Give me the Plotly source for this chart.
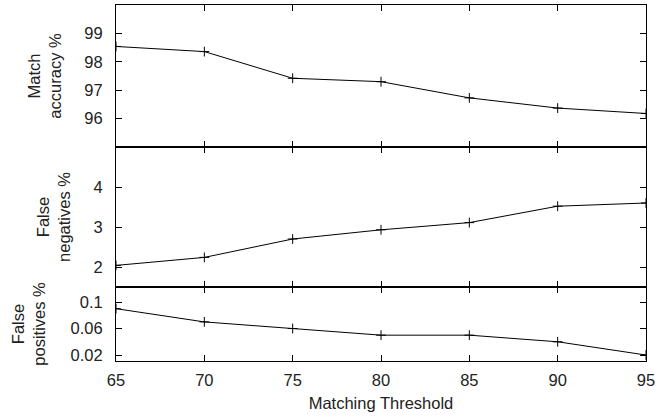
import plotly.graph_objects as go
from plotly.subplots import make_subplots

thresholds = [65, 70, 75, 80, 85, 90, 95]
match_accuracy = [98.54, 98.36, 97.42, 97.3, 96.73, 96.37, 96.18]
false_negatives = [2.04, 2.24, 2.7, 2.93, 3.11, 3.52, 3.6]
false_positives = [0.09, 0.07, 0.06, 0.05, 0.05, 0.04, 0.02]

x_ticks = [65, 70, 75, 80, 85, 90, 95]

fig = make_subplots(rows=3, cols=1, shared_xaxes=True, vertical_spacing=0,
                    row_heights=[142, 140, 74])

series = [match_accuracy, false_negatives, false_positives]
for i, s in enumerate(series, start=1):
    fig.add_trace(go.Scatter(x=thresholds, y=s, mode="lines+markers",
                             line=dict(color="black", width=1),
                             marker=dict(symbol="cross-thin", size=7,
                                         line=dict(color="black", width=1)),
                             showlegend=False), row=i, col=1)

font = dict(family="Liberation Sans, Arial, sans-serif", size=16.5, color="#222")
axis_common = dict(showline=True, linecolor="black", linewidth=1, mirror="allticks",
                   ticks="inside", ticklen=6, tickcolor="black", showgrid=False,
                   zeroline=False, tickfont=font)

for i in range(1, 4):
    fig.update_xaxes(range=[65, 95], tickvals=x_ticks, showticklabels=(i == 3),
                     ticklabelstandoff=4, row=i, col=1, **axis_common)

fig.update_xaxes(title=dict(text="Matching Threshold", font=font, standoff=9), row=3, col=1)

fig.update_yaxes(range=[95, 100], tickvals=[96, 97, 98, 99], ticklabelstandoff=9,
                 title=dict(text="Match<br>accuracy %", font=font, standoff=18),
                 row=1, col=1, **axis_common)
fig.update_yaxes(range=[1.5, 5], tickvals=[2, 3, 4], ticklabelstandoff=9,
                 title=dict(text="False<br>negatives %", font=font, standoff=18),
                 row=2, col=1, **axis_common)
fig.update_yaxes(range=[0.011, 0.1227], tickvals=[0.02, 0.06, 0.1], ticklabelstandoff=9,
                 ticktext=["0.02", "0.06", "0.1"],
                 title=dict(text="False<br>positives %", font=font, standoff=20),
                 row=3, col=1, **axis_common)

fig.update_layout(width=659, height=419, margin=dict(l=116, r=13, t=5, b=58),
                  plot_bgcolor="white", paper_bgcolor="white", font=font)

fig.write_html("out.html", config={"displayModeBar": False},
               post_script="document.body.style.margin='0';document.body.style.padding='0';")
